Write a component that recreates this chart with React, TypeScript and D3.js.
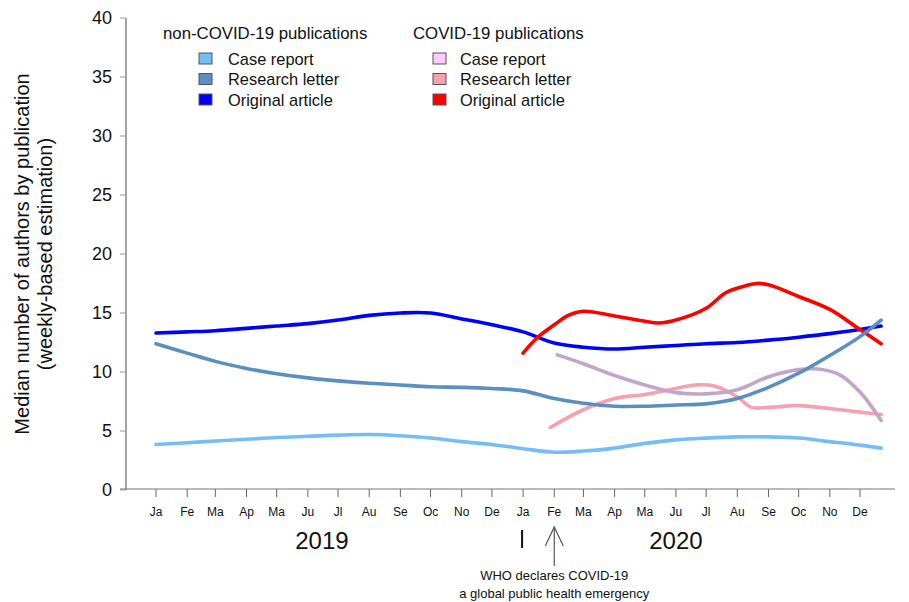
import * as React from 'react';
import * as d3 from 'd3';

type Pt = [string, number];

const monthLabels = ['Ja', 'Fe', 'Ma', 'Ap', 'Ma', 'Ju', 'Jl', 'Au', 'Se', 'Oc', 'No', 'De'];
const years = [2019, 2020];
const yTicks = [0, 5, 10, 15, 20, 25, 30, 35, 40];

const nonCovidCase: Pt[] = [
  ['2019-01-01', 3.85], ['2019-02-01', 4.0], ['2019-03-01', 4.15], ['2019-04-01', 4.3],
  ['2019-05-01', 4.45], ['2019-06-01', 4.55], ['2019-07-01', 4.65], ['2019-08-01', 4.7],
  ['2019-09-01', 4.6], ['2019-10-01', 4.4], ['2019-11-01', 4.1], ['2019-12-01', 3.85],
  ['2020-01-01', 3.5], ['2020-02-01', 3.2], ['2020-03-01', 3.3], ['2020-04-01', 3.55],
  ['2020-05-01', 3.95], ['2020-06-01', 4.25], ['2020-07-01', 4.4], ['2020-08-01', 4.5],
  ['2020-09-01', 4.5], ['2020-10-01', 4.4], ['2020-11-01', 4.1], ['2020-12-01', 3.8],
  ['2020-12-22', 3.55],
];

const nonCovidLetter: Pt[] = [
  ['2019-01-01', 12.4], ['2019-02-01', 11.6], ['2019-03-01', 10.9], ['2019-04-01', 10.3],
  ['2019-05-01', 9.85], ['2019-06-01', 9.5], ['2019-07-01', 9.25], ['2019-08-01', 9.05],
  ['2019-09-01', 8.9], ['2019-10-01', 8.75], ['2019-11-01', 8.7], ['2019-12-01', 8.6],
  ['2020-01-01', 8.4], ['2020-02-01', 7.75], ['2020-03-01', 7.35], ['2020-04-01', 7.1],
  ['2020-05-01', 7.1], ['2020-06-01', 7.2], ['2020-07-01', 7.3], ['2020-08-01', 7.75],
  ['2020-09-01', 8.7], ['2020-10-01', 9.9], ['2020-11-01', 11.4], ['2020-12-01', 13.0],
  ['2020-12-22', 14.4],
];

const nonCovidOriginal: Pt[] = [
  ['2019-01-01', 13.3], ['2019-02-01', 13.4], ['2019-03-01', 13.5], ['2019-04-01', 13.7],
  ['2019-05-01', 13.9], ['2019-06-01', 14.1], ['2019-07-01', 14.4], ['2019-08-01', 14.8],
  ['2019-09-01', 15.0], ['2019-10-01', 15.0], ['2019-11-01', 14.5], ['2019-12-01', 14.0],
  ['2020-01-01', 13.4], ['2020-02-01', 12.45], ['2020-03-01', 12.1], ['2020-04-01', 11.95],
  ['2020-05-01', 12.1], ['2020-06-01', 12.25], ['2020-07-01', 12.4], ['2020-08-01', 12.5],
  ['2020-09-01', 12.7], ['2020-10-01', 12.95], ['2020-11-01', 13.25], ['2020-12-01', 13.6],
  ['2020-12-22', 13.9],
];

const covidCase: Pt[] = [
  ['2020-02-04', 11.45], ['2020-03-01', 10.7], ['2020-04-01', 9.7], ['2020-05-01', 8.9],
  ['2020-06-01', 8.25], ['2020-07-01', 8.15], ['2020-08-01', 8.5], ['2020-09-01', 9.6],
  ['2020-10-01', 10.2], ['2020-10-20', 10.25], ['2020-11-10', 9.8], ['2020-12-01', 8.3],
  ['2020-12-22', 5.9],
];

const covidLetter: Pt[] = [
  ['2020-01-28', 5.3], ['2020-03-01', 6.8], ['2020-04-01', 7.75], ['2020-05-01', 8.1],
  ['2020-06-01', 8.6], ['2020-06-20', 8.9], ['2020-07-10', 8.8], ['2020-08-01', 7.9],
  ['2020-08-15', 7.0], ['2020-09-01', 7.0], ['2020-10-01', 7.15], ['2020-11-01', 6.9],
  ['2020-12-01', 6.6], ['2020-12-22', 6.4],
];

const covidOriginal: Pt[] = [
  ['2020-01-01', 11.6], ['2020-01-15', 12.9], ['2020-02-01', 14.0], ['2020-02-15', 14.8],
  ['2020-03-01', 15.15], ['2020-04-01', 14.75], ['2020-05-01', 14.3], ['2020-05-15', 14.15],
  ['2020-06-01', 14.4], ['2020-07-01', 15.4], ['2020-07-20', 16.7], ['2020-08-01', 17.1],
  ['2020-08-20', 17.5], ['2020-09-01', 17.4], ['2020-10-01', 16.4], ['2020-11-01', 15.3],
  ['2020-12-01', 13.6], ['2020-12-22', 12.4],
];

const nonCovidLegend = [
  { label: 'Case report', fill: '#74BEF5' },
  { label: 'Research letter', fill: '#5A8FBF' },
  { label: 'Original article', fill: '#0000FF' },
];
const covidLegend = [
  { label: 'Case report', fill: '#FFCCFF' },
  { label: 'Research letter', fill: '#F7A1AE' },
  { label: 'Original article', fill: '#FF0000' },
];

// drawing order, bottom first
const series = [
  { data: nonCovidCase, color: '#74BEF5' },
  { data: covidLetter, color: '#F7A1AE' },
  { data: covidCase, color: '#C2A5C8' },
  { data: nonCovidOriginal, color: '#0000FF' },
  { data: covidOriginal, color: '#FF0000' },
  { data: nonCovidLetter, color: '#5A8FBF' },
];

const parse = (s: string) => {
  const [y, m, d] = s.split('-').map(Number);
  return new Date(y, m - 1, d);
};

export default function App() {
  const width = 909;
  const height = 602;
  const font = '"Liberation Sans", Arial, sans-serif';

  const x = d3.scaleTime()
    .domain([new Date(2019, 0, 1), new Date(2020, 11, 1)])
    .range([156, 860]);
  const y = d3.scaleLinear().domain([0, 40]).range([490, 18]);

  const line = d3.line<Pt>()
    .x((d) => x(parse(d[0])))
    .y((d) => y(d[1]))
    .curve(d3.curveCatmullRom.alpha(0.5));

  const months = years.flatMap((yr) => monthLabels.map((lab, i) => ({ lab, date: new Date(yr, i, 1) })));
  const axisX0 = 126;
  const axisY = 489;
  const who = x(new Date(2020, 1, 1));

  const legend = (title: string, items: { label: string; fill: string }[], tx: number, sx: number, lx: number) => (
    <g>
      <text x={tx} y={39} fontSize={16.8} fill="#111">{title}</text>
      {items.map((it, i) => (
        <g key={i}>
          <rect x={sx} y={53 + i * 20.5} width={13} height={11} fill={it.fill} stroke="#555" strokeWidth={1} />
          <text x={lx} y={64.5 + i * 20.5} fontSize={16.4} fill="#111">{it.label}</text>
        </g>
      ))}
    </g>
  );

  return (
    <svg width={width} height={height} style={{ position: 'absolute', left: 0, top: 0, background: '#fff' }} fontFamily={font}>
      {/* y axis */}
      <line x1={axisX0} x2={axisX0} y1={y(40)} y2={y(0)} stroke="#666" strokeWidth={1.2} />
      {yTicks.map((t) => (
        <g key={t}>
          <line x1={axisX0 - 6} x2={axisX0} y1={y(t)} y2={y(t)} stroke="#999" strokeWidth={1} />
          <text x={112} y={y(t)} dy="0.35em" textAnchor="end" fontSize={18} fill="#111">{t}</text>
        </g>
      ))}
      <text transform={`translate(29,254) rotate(-90)`} textAnchor="middle" fontSize={20} fill="#111">
        Median number of authors by publication
      </text>
      <text transform={`translate(52,254) rotate(-90)`} textAnchor="middle" fontSize={20} fill="#111">
        (weekly-based estimation)
      </text>

      {/* x axis */}
      <line x1={axisX0 - 6} x2={895} y1={axisY} y2={axisY} stroke="#777" strokeWidth={1.2} />
      {months.map((m, i) => (
        <g key={i}>
          <line x1={x(m.date)} x2={x(m.date)} y1={axisY} y2={axisY + 8} stroke="#666" strokeWidth={1} />
          <text x={x(m.date)} y={516} textAnchor="middle" fontSize={12} fill="#111">{m.lab}</text>
        </g>
      ))}
      {years.map((yr) => (
        <text key={yr} x={x(yr === 2019 ? new Date(yr, 5, 15) : new Date(yr, 5, 1))} y={549} textAnchor="middle" fontSize={24} fill="#111">
          {yr}
        </text>
      ))}
      <line x1={x(new Date(2019, 11, 31))} x2={x(new Date(2019, 11, 31))} y1={530} y2={548} stroke="#111" strokeWidth={2} />
      <g stroke="#555" strokeWidth={1.2} fill="none">
        <line x1={who} x2={who} y1={566} y2={527} />
        <polyline points={`${who - 9},546 ${who},527 ${who + 9},546`} />
      </g>
      <text x={who} y={580} textAnchor="middle" fontSize={13} fill="#111">WHO declares COVID-19</text>
      <text x={who} y={598} textAnchor="middle" fontSize={13} fill="#111">a global public health emergency</text>

      {/* series */}
      {series.map((s, i) => (
        <path key={i} d={line(s.data) ?? ''} fill="none" stroke={s.color} strokeWidth={3.6} strokeLinecap="round" strokeLinejoin="round" />
      ))}

      {legend('non-COVID-19 publications', nonCovidLegend, 163, 199, 228)}
      {legend('COVID-19 publications', covidLegend, 413, 433, 460)}
    </svg>
  );
}
